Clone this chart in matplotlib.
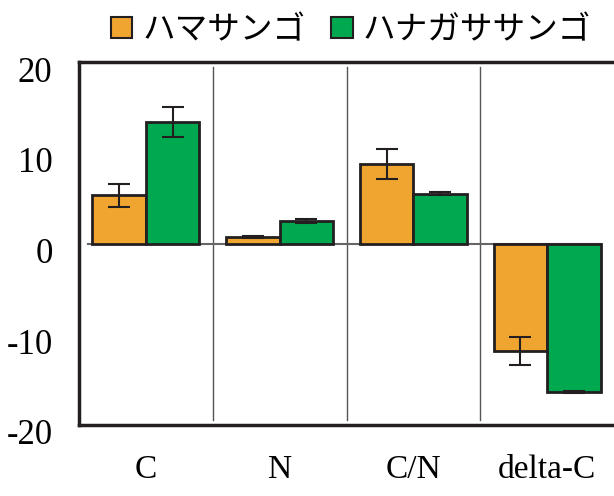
import numpy as np
import matplotlib
matplotlib.use("Agg")
import matplotlib.pyplot as plt
import matplotlib.transforms as mtransforms
from matplotlib.patches import Patch

plt.rcParams['axes.unicode_minus'] = False

# data
categories = ["C", "N", "C/N", "delta-C"]
series_names = ["ハマサンゴ", "ハナガササンゴ"]
hama = [5.3, 0.7, 8.8, -11.8]
hama_err = [1.25, 0.1, 1.65, 1.55]
hanagasa = [13.4, 2.5, 5.5, -16.4]
hanagasa_err = [1.65, 0.25, 0.2, 0.1]

col_hama = "#F0A530"
col_hana = "#00A94F"
edge = "#231F20"

fig = plt.figure(figsize=(6.14, 4.96), dpi=100)
ax = fig.add_axes([79/614, 1 - 425/496, 535/614, 363/496])

x = np.arange(len(categories))
w = 0.4

# separators between groups
for s in x[:-1] + 0.5:
    ax.plot([s, s], [-19.45, 19.45], color="#555555", lw=1.0, zorder=1)

# zero line
ax.plot([-0.43, 3.4], [0, 0], color="#666666", lw=1.5, zorder=1)

ekw = dict(ecolor=edge, elinewidth=1.5, capsize=8, capthick=1.5)
ax.bar(x - w/2, hama, w, yerr=hama_err, color=col_hama, edgecolor=edge,
       linewidth=2, zorder=2, error_kw=ekw)
ax.bar(x + w/2, hanagasa, w, yerr=hanagasa_err, color=col_hana, edgecolor=edge,
       linewidth=2, zorder=2, error_kw=ekw)

ax.set_xlim(-0.5, 3.5)
ax.set_ylim(-20, 20)
ax.set_yticks([-20, -10, 0, 10, 20])
ax.set_xticks(x)
ax.set_xticklabels(categories)

for side in ["top", "left", "bottom"]:
    ax.spines[side].set_linewidth(2.5)
    ax.spines[side].set_color(edge)
ax.spines["right"].set_visible(False)

ax.tick_params(axis="y", length=0, pad=19, labelsize=25)
ax.tick_params(axis="x", length=0, pad=21, labelsize=24)
for lab in ax.get_yticklabels() + ax.get_xticklabels():
    lab.set_fontfamily("Liberation Serif")
offset = mtransforms.ScaledTranslation(0, -7/100, fig.dpi_scale_trans)
for lab in ax.get_yticklabels():
    lab.set_transform(lab.get_transform() + offset)

handles = [Patch(facecolor=col_hama, edgecolor=edge, linewidth=1.5),
           Patch(facecolor=col_hana, edgecolor=edge, linewidth=1.5)]
fig.legend(handles, series_names, loc="center", bbox_to_anchor=(351/614, 1 - 30/496),
           ncol=2, frameon=False, handlelength=0.65, handleheight=0.65,
           handletextpad=0.3, columnspacing=0.8,
           prop={"family": ["Noto Sans CJK JP", "DejaVu Sans"], "size": 23.5})

fig.savefig("out.png", dpi=100)
